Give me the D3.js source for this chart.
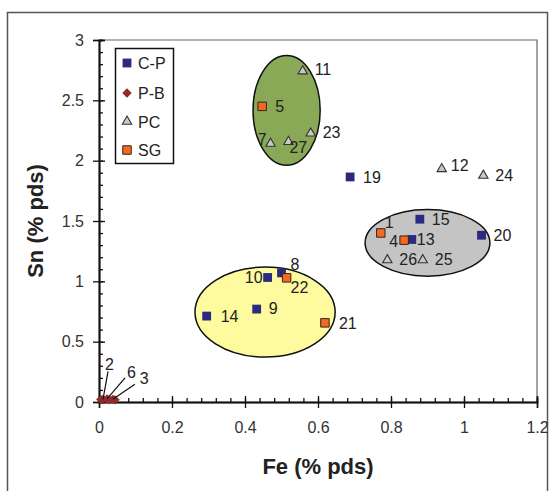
<!DOCTYPE html>
<html><head><meta charset="utf-8">
<script src="https://cdn.jsdelivr.net/npm/d3@7"></script>
<style>
body{margin:0;background:#fff;}
svg{display:block;font-family:"Liberation Sans",Arial,sans-serif;}
</style></head>
<body>
<svg id="c" width="549" height="491"></svg>
<script>
// ---- data ----
const xTicks = [0, 0.2, 0.4, 0.6, 0.8, 1, 1.2];
const xTickLabels = ["0", "0.2", "0.4", "0.6", "0.8", "1", "1.2"];
const yTicks = [0, 0.5, 1, 1.5, 2, 2.5, 3];
const yTickLabels = ["0", "0.5", "1", "1.5", "2", "2.5", "3"];

const cpLabels = ["8", "9", "10", "13", "14", "15", "19", "20"];
const cpFe = [0.500, 0.432, 0.462, 0.857, 0.295, 0.879, 0.688, 1.048];
const cpSn = [1.070, 0.770, 1.032, 1.347, 0.712, 1.515, 1.865, 1.382];

const pbLabels = ["", "2", "6", "", "3", ""];
const pbFe = [0.005, 0.011, 0.022, 0.028, 0.038, 0.044];
const pbSn = [0.020, 0.022, 0.025, 0.018, 0.022, 0.018];

const pcLabels = ["7", "11", "12", "23", "24", "25", "26", "27"];
const pcFe = [0.470, 0.558, 0.939, 0.580, 1.053, 0.887, 0.790, 0.519];
const pcSn = [2.150, 2.750, 1.940, 2.235, 1.885, 1.185, 1.185, 2.165];

const sgLabels = ["1", "4", "5", "21", "22"];
const sgFe = [0.772, 0.836, 0.447, 0.619, 0.514];
const sgSn = [1.401, 1.341, 2.450, 0.656, 1.029];

const seriesNames = ["C-P", "P-B", "PC", "SG"];

// group ellipses (data units)
const ellCx = [0.514, 0.455, 0.900];
const ellCy = [2.417, 0.745, 1.319];
const ellRx = [0.092, 0.192, 0.171];
const ellRy = [0.455, 0.373, 0.276];
const ellFill = ["#8aa957", "#fdfb9e", "#c4c4c4"];

// ---- layout ----
const svg = d3.select("#c");
const x = d3.scaleLinear().domain([0, 1.2]).range([99, 537]);
const y = d3.scaleLinear().domain([0, 3]).range([402, 40]);

const colCP = "#2b2a7e", colPB = "#8e2b2b", colSG = "#f06a23";

// outer frame
svg.append("rect").attr("x", 7.5).attr("y", 12.5).attr("width", 540).attr("height", 490)
  .attr("fill", "none").attr("stroke", "#555").attr("stroke-width", 1.5);

// plot border (top/right)
svg.append("path")
  .attr("d", `M${x(0)},${y(3)}H${x(1.2)}V${y(0)}`)
  .attr("fill", "none").attr("stroke", "#666").attr("stroke-width", 1.2);

// ellipses
ellCx.forEach((c, i) => {
  svg.append("ellipse")
    .attr("cx", x(c)).attr("cy", y(ellCy[i]))
    .attr("rx", x(ellRx[i]) - x(0)).attr("ry", y(0) - y(ellRy[i]))
    .attr("fill", ellFill[i]).attr("stroke", "#111").attr("stroke-width", 1.5);
});

// axes
const axisCol = "#111";
function styleAxis(g) {
  g.select(".domain").attr("stroke", axisCol).attr("stroke-width", 1.5);
  g.selectAll(".tick line").attr("stroke", axisCol).attr("stroke-width", 1.3);
  g.selectAll(".tick text").attr("fill", "#333").attr("font-size", 16)
    .attr("font-family", "'Liberation Sans', Arial, sans-serif");
}
const xMinor = d3.range(0, 1.2001, 0.04);
const yMinor = d3.range(0, 3.0001, 0.1);
svg.append("g").attr("transform", `translate(0,${y(0)})`)
  .call(d3.axisBottom(x).tickValues(xMinor).tickSize(-4).tickFormat(""))
  .call(styleAxis);
svg.append("g").attr("transform", `translate(${x(0)},0)`)
  .call(d3.axisLeft(y).tickValues(yMinor).tickSize(-4).tickFormat(""))
  .call(styleAxis);
svg.append("g").attr("transform", `translate(0,${y(0)})`)
  .call(d3.axisBottom(x).tickValues(xTicks).tickSize(-6).tickFormat(""))
  .call(styleAxis);
svg.append("g").attr("transform", `translate(${x(0)},0)`)
  .call(d3.axisLeft(y).tickValues(yTicks).tickSize(-6).tickFormat(""))
  .call(styleAxis);
svg.append("g").attr("transform", `translate(0,${y(0)})`)
  .call(d3.axisBottom(x).tickValues(xTicks).tickSize(6).tickPadding(14)
    .tickFormat((d, i) => xTickLabels[i]))
  .call(styleAxis);
svg.append("g").attr("transform", `translate(${x(0)},0)`)
  .call(d3.axisLeft(y).tickValues(yTicks).tickSize(6).tickPadding(9)
    .tickFormat((d, i) => yTickLabels[i]))
  .call(styleAxis);

// axis titles
svg.append("text").attr("x", 318).attr("y", 474).attr("text-anchor", "middle")
  .attr("font-size", 22).attr("font-weight", "bold").attr("fill", "#222").text("Fe (% pds)");
svg.append("text").attr("transform", "translate(43,221) rotate(-90)").attr("text-anchor", "middle")
  .attr("font-size", 22).attr("font-weight", "bold").attr("fill", "#222").text("Sn (% pds)");

// markers
const sym = {
  sq: d3.symbol().type(d3.symbolSquare).size(78),
  sgsq: d3.symbol().type(d3.symbolSquare).size(72),
  tri: d3.symbol().type(d3.symbolTriangle).size(38),
  dia: d3.symbol().type(d3.symbolSquare).size(44)
};
function drawCP(g, px, py) {
  g.append("path").attr("d", sym.sq()).attr("transform", `translate(${px},${py})`)
    .attr("fill", colCP);
}
function drawPB(g, px, py) {
  g.append("path").attr("d", sym.dia()).attr("transform", `translate(${px},${py}) rotate(45)`)
    .attr("fill", colPB);
}
function drawPC(g, px, py) {
  g.append("path").attr("d", sym.tri()).attr("transform", `translate(${px},${py})`)
    .attr("fill", "#c9c9c9").attr("stroke", "#333").attr("stroke-width", 1.1);
}
function drawSG(g, px, py) {
  g.append("path").attr("d", sym.sgsq()).attr("transform", `translate(${px},${py})`)
    .attr("fill", colSG).attr("stroke", "#3a2418").attr("stroke-width", 1);
}

const pts = svg.append("g");
pbFe.forEach((v, i) => drawPB(pts, x(v), y(pbSn[i])));
pcFe.forEach((v, i) => drawPC(pts, x(v), y(pcSn[i]) + 1));
cpFe.forEach((v, i) => drawCP(pts, x(v), y(cpSn[i])));
sgFe.forEach((v, i) => drawSG(pts, x(v), y(sgSn[i])));

// point labels: [dx, dy, anchor]
const off = {
  "19": [13, 6, "start"], "11": [12, 5, "start"], "5": [13, 6, "start"],
  "23": [12, 6, "start"], "7": [-4, 2, "end"], "27": [1, 12, "start"],
  "12": [9, 3, "start"], "24": [12, 6, "start"], "15": [12, 6, "start"],
  "20": [12, 6, "start"], "13": [5, 6, "start"], "4": [-6, 7, "end"],
  "1": [4, -5, "start"], "26": [12, 6, "start"], "25": [12, 6, "start"],
  "10": [-5, 6, "end"], "8": [9, -3, "start"], "22": [4, 15, "start"],
  "9": [12, 5, "start"], "14": [14, 6, "start"], "21": [14, 6, "start"]
};
const lab = svg.append("g").attr("font-size", 16).attr("fill", "#222");
function labels(names, fe, sn) {
  names.forEach((n, i) => {
    if (!off[n]) return;
    const o = off[n];
    lab.append("text").attr("x", x(fe[i]) + o[0]).attr("y", y(sn[i]) + o[1])
      .attr("text-anchor", o[2]).text(n);
  });
}
labels(cpLabels, cpFe, cpSn);
labels(pcLabels, pcFe, pcSn);
labels(sgLabels, sgFe, sgSn);

// P-B leader labels
const pbLead = {"2": [5, 28, 2, 34], "6": [18, 21, 20, 26], "3": [22, 15, 27, 20]};
pbLabels.forEach((n, i) => {
  if (!n) return;
  const px = x(pbFe[i]), py = y(pbSn[i]);
  const o = pbLead[n];
  svg.append("line").attr("x1", px).attr("y1", py)
    .attr("x2", px + o[0]).attr("y2", py - o[1])
    .attr("stroke", "#111").attr("stroke-width", 1.2);
  lab.append("text").attr("x", px + o[2]).attr("y", py - o[3] + 5).text(n);
});

// legend
const lg = svg.append("g");
lg.append("rect").attr("x", 115.5).attr("y", 48.5).attr("width", 58).attr("height", 115)
  .attr("fill", "#fff").attr("stroke", "#111").attr("stroke-width", 1.5);
const legY = [63, 93, 121.5, 150];
const drawers = [drawCP, drawPB, drawPC, drawSG];
seriesNames.forEach((s, i) => {
  drawers[i](lg, 127, legY[i]);
  lg.append("text").attr("x", 138).attr("y", legY[i] + 6).attr("font-size", 16)
    .attr("fill", "#222").text(s);
});
</script>
</body></html>
